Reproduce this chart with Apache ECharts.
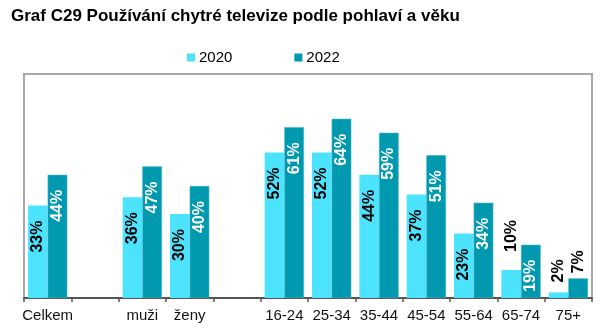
<!DOCTYPE html>
<html>
<head>
<meta charset="utf-8">
<script src="https://cdn.jsdelivr.net/npm/echarts@6/dist/echarts.min.js"></script>
<style>
  html, body { margin: 0; padding: 0; background: #fff; }
  #chart { width: 600px; height: 335px; }
</style>
</head>
<body>
<div id="chart"></div>
<script>
// Categories (empty strings leave gaps between groups)
const categories = ['Celkem', '', 'muži', 'ženy', '', '16-24', '25-34', '35-44', '45-54', '55-64', '65-74', '75+'];
const values2020 = [33, null, 36, 30, null, 52, 52, 44, 37, 23, 10, 2];
const values2022 = [44, null, 47, 40, null, 61, 64, 59, 51, 34, 19, 7];
const seriesNames = ['2020', '2022'];

const COLOR_2020 = '#4ce3ff';
const COLOR_2022 = '#0099b0';
const FONT = '"Liberation Sans", Arial, sans-serif';

// Small bars carry their label above the bar instead of inside
const outsideLabels2020 = { 10: 18, 11: 10 };
const outsideLabels2022 = { 11: 5 };

function buildData(values, outside) {
  return values.map((v, i) => {
    if (v === null) return null;
    const item = { value: v };
    if (outside[i] !== undefined) {
      item.label = {
        position: 'top',
        align: 'left',
        verticalAlign: 'middle',
        distance: outside[i],
        color: '#000'
      };
    }
    return item;
  });
}

const baseLabel = {
  show: true,
  position: 'insideTop',
  rotate: 90,
  align: 'right',
  verticalAlign: 'middle',
  distance: 15,
  fontFamily: FONT,
  fontWeight: 'bold',
  fontSize: 16,
  formatter: p => p.value + '%'
};

const chart = echarts.init(document.getElementById('chart'), null, { renderer: 'canvas' });
chart.setOption({
  animation: false,
  backgroundColor: '#fff',
  title: {
    text: 'Graf C29 Používání chytré televize podle pohlaví a věku',
    left: 6,
    top: 3,
    textStyle: { fontFamily: FONT, fontWeight: 'bold', fontSize: 17, color: '#000' }
  },
  legend: {
    data: seriesNames,
    left: 182,
    top: 45,
    itemWidth: 8,
    itemHeight: 8,
    itemGap: 62,
    icon: 'rect',
    itemStyle: { borderWidth: 0 },
    textStyle: { fontFamily: FONT, fontSize: 15, color: '#000', padding: [0, 0, 0, -1] }
  },
  grid: {
    left: 24, right: 8, top: 74, bottom: 37,
    show: true,
    borderColor: '#a8a8a8',
    borderWidth: 2,
    backgroundColor: '#fff'
  },
  xAxis: {
    type: 'category',
    data: categories,
    axisLine: { lineStyle: { color: '#555', width: 2 } },
    axisTick: { show: true, length: 4, lineStyle: { color: '#555', width: 1.5 } },
    axisLabel: { fontFamily: FONT, fontSize: 15, color: '#111', margin: 10, interval: 0 }
  },
  yAxis: {
    type: 'value',
    min: 0,
    max: 80,
    show: false,
    splitLine: { show: false }
  },
  series: [
    {
      name: seriesNames[0],
      type: 'bar',
      data: buildData(values2020, outsideLabels2020),
      itemStyle: { color: COLOR_2020 },
      barGap: '0%',
      barCategoryGap: '17%',
      label: Object.assign({}, baseLabel, { color: '#000' })
    },
    {
      name: seriesNames[1],
      type: 'bar',
      data: buildData(values2022, outsideLabels2022),
      itemStyle: { color: COLOR_2022, borderColor: '#3fb6c8', borderWidth: 0.6 },
      barGap: '0%',
      barCategoryGap: '17%',
      label: Object.assign({}, baseLabel, { color: '#fff' })
    }
  ]
});
</script>
</body>
</html>
